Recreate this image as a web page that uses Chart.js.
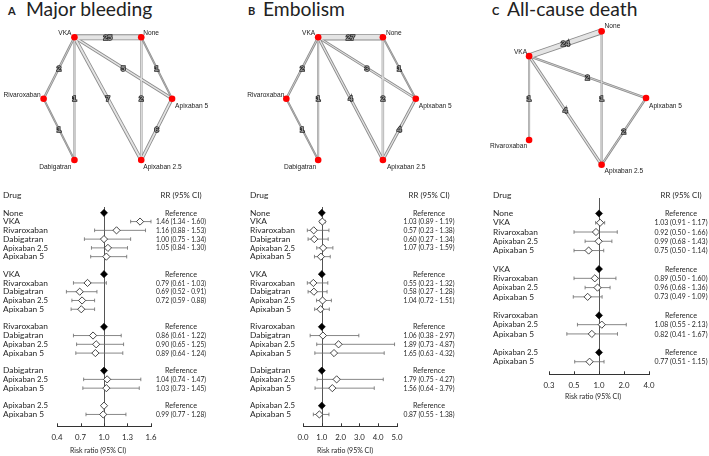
<!DOCTYPE html>
<html><head><meta charset="utf-8">
<script src="https://cdn.jsdelivr.net/npm/chart.js@4.4.0/dist/chart.umd.min.js"></script>
<style>
html,body{margin:0;padding:0;background:#fff;overflow:hidden;width:709px;height:456px;position:relative}
canvas{position:absolute}
.ltr{position:absolute;top:5px;font:bold 11px/1 Lato,sans-serif;color:#222;white-space:nowrap}
.ttl{position:absolute;top:-1.5px;font:19.3px/1 Lato,sans-serif;color:#222;white-space:nowrap}
</style></head>
<body>
<div class="ltr" style="left:8px">A</div><div class="ttl" style="left:26px">Major bleeding</div>
<div class="ltr" style="left:248px">B</div><div class="ttl" style="left:263px">Embolism</div>
<div class="ltr" style="left:492px">C</div><div class="ttl" style="left:507px">All-cause death</div>
<canvas id="netA"></canvas><canvas id="netB"></canvas><canvas id="netC"></canvas>
<canvas id="forA"></canvas><canvas id="forB"></canvas><canvas id="forC"></canvas>
<script>
// ================= DATA =================
// --- Network A: Major bleeding (node layout in unit coordinates) ---
const netNodesA = ["VKA", "None", "Rivaroxaban", "Apixaban 5", "Dabigatran", "Apixaban 2.5"];
const netXA = [0.24, 0.76, 0, 1, 0.24, 0.76];
const netYA = [0, 0, 0.5, 0.5, 1, 1];
const edgeFromA = ["VKA", "VKA", "VKA", "VKA", "VKA", "None", "None", "Rivaroxaban", "Apixaban 5"];
const edgeToA = ["None", "Rivaroxaban", "Dabigatran", "Apixaban 2.5", "Apixaban 5", "Apixaban 2.5", "Apixaban 5", "Dabigatran", "Apixaban 2.5"];
const edgeCountA = [25, 2, 1, 7, 5, 2, 1, 1, 6];

// --- Network B: Embolism ---
const netNodesB = ["VKA", "None", "Rivaroxaban", "Apixaban 5", "Dabigatran", "Apixaban 2.5"];
const netXB = [0.246, 0.746, 0, 1, 0.246, 0.746];
const netYB = [0, 0, 0.5, 0.5, 1, 1];
const edgeFromB = ["VKA", "VKA", "VKA", "VKA", "VKA", "None", "None", "Rivaroxaban", "Apixaban 5"];
const edgeToB = ["None", "Rivaroxaban", "Dabigatran", "Apixaban 2.5", "Apixaban 5", "Apixaban 2.5", "Apixaban 5", "Dabigatran", "Apixaban 2.5"];
const edgeCountB = [27, 2, 1, 4, 3, 2, 1, 1, 4];

// --- Network C: All-cause death ---
const netNodesC = ["None", "VKA", "Apixaban 5", "Rivaroxaban", "Apixaban 2.5"];
const netXC = [0.62, 0, 1, 0, 0.62];
const netYC = [0, 0.186, 0.5, 0.814, 1];
const edgeFromC = ["VKA", "VKA", "VKA", "VKA", "None", "Apixaban 5"];
const edgeToC = ["None", "Rivaroxaban", "Apixaban 2.5", "Apixaban 5", "Apixaban 2.5", "Apixaban 2.5"];
const edgeCountC = [24, 1, 4, 2, 1, 2];

// --- Forest A: Major bleeding (ref = reference, est = estimate, hid = estimate w/o printed value) ---
const drugsA = ["None", "VKA", "Rivaroxaban", "Dabigatran", "Apixaban 2.5", "Apixaban 5", "",
  "VKA", "Rivaroxaban", "Dabigatran", "Apixaban 2.5", "Apixaban 5", "",
  "Rivaroxaban", "Dabigatran", "Apixaban 2.5", "Apixaban 5", "",
  "Dabigatran", "Apixaban 2.5", "Apixaban 5", "",
  "Apixaban 2.5", "Apixaban 5"];
const kindA = ["ref", "est", "est", "est", "est", "hid", "",
  "ref", "est", "est", "est", "hid", "",
  "ref", "est", "est", "est", "",
  "ref", "est", "est", "",
  "refOpen", "est"];
const rrA = [1, 1.46, 1.16, 1.00, 1.05, 1.03, null, 1, 0.79, 0.69, 0.72, 0.71, null, 1, 0.86, 0.90, 0.89, null, 1, 1.04, 1.03, null, 1, 0.99];
const loA = [null, 1.34, 0.88, 0.75, 0.84, 0.83, null, null, 0.61, 0.52, 0.59, 0.58, null, null, 0.61, 0.65, 0.64, null, null, 0.74, 0.73, null, null, 0.77];
const hiA = [null, 1.60, 1.53, 1.34, 1.30, 1.29, null, null, 1.03, 0.91, 0.88, 0.88, null, null, 1.22, 1.25, 1.24, null, null, 1.47, 1.45, null, null, 1.28];
const tickValsA = [0.4, 0.7, 1.0, 1.3, 1.6];
const tickLabelsA = ["0.4", "0.7", "1.0", "1.3", "1.6"];

// --- Forest B: Embolism ---
const drugsB = drugsA.slice();
const kindB = ["ref", "est", "est", "est", "est", "hid", "",
  "ref", "est", "est", "est", "hid", "",
  "ref", "est", "est", "est", "",
  "ref", "est", "est", "",
  "ref", "est"];
const rrB = [1, 1.03, 0.57, 0.60, 1.07, 0.95, null, 1, 0.55, 0.58, 1.04, 0.93, null, 1, 1.06, 1.89, 1.65, null, 1, 1.79, 1.56, null, 1, 0.87];
const loB = [null, 0.89, 0.23, 0.27, 0.73, 0.61, null, null, 0.23, 0.27, 0.72, 0.62, null, null, 0.38, 0.73, 0.63, null, null, 0.75, 0.64, null, null, 0.55];
const hiB = [null, 1.19, 1.38, 1.34, 1.59, 1.45, null, null, 1.32, 1.28, 1.51, 1.40, null, null, 2.97, 4.87, 4.32, null, null, 4.27, 3.79, null, null, 1.38];
const tickValsB = [0, 1, 2, 3, 4, 5];
const tickLabelsB = ["0.0", "1.0", "2.0", "3.0", "4.0", "5.0"];

// --- Forest C: All-cause death (log scale) ---
const drugsC = ["None", "VKA", "Rivaroxaban", "Apixaban 2.5", "Apixaban 5", "",
  "VKA", "Rivaroxaban", "Apixaban 2.5", "Apixaban 5", "",
  "Rivaroxaban", "Apixaban 2.5", "Apixaban 5", "",
  "Apixaban 2.5", "Apixaban 5"];
const kindC = ["ref", "est", "est", "est", "est", "",
  "ref", "est", "est", "est", "",
  "ref", "est", "est", "",
  "ref", "est"];
const rrC = [1, 1.03, 0.92, 0.99, 0.75, null, 1, 0.89, 0.96, 0.73, null, 1, 1.08, 0.82, null, 1, 0.77];
const loC = [null, 0.91, 0.50, 0.68, 0.50, null, null, 0.50, 0.68, 0.49, null, null, 0.55, 0.41, null, null, 0.51];
const hiC = [null, 1.17, 1.66, 1.43, 1.14, null, null, 1.60, 1.36, 1.09, null, null, 2.13, 1.67, null, null, 1.15];
const tickValsC = [0.25, 0.5, 1, 2, 4];
const tickLabelsC = ["0.3", "0.5", "1.0", "2.0", "4.0"];

// ================= STYLE / LAYOUT =================
const FONT = "Lato, 'Open Sans', sans-serif";
const NETFONT = "'Liberation Sans', Arial, sans-serif";
const TXT = '#262626';

const netLayoutA = {left: 0, top: 20, w: 235, h: 165, x0: 41, x1: 174, y0: 34, y1: 163};
const netLayoutB = {left: 235, top: 20, w: 235, h: 165, x0: 284, x1: 418, y0: 34, y1: 163};
const netLayoutC = {left: 470, top: 14, w: 239, h: 171, x0: 527, x1: 648, y0: 28, y1: 168};

const labelPosA = {"VKA": [-3, -4, 'right'], "None": [2, -4, 'left'], "Rivaroxaban": [-3, -4, 'right'],
  "Apixaban 5": [3, 7, 'left'], "Dabigatran": [-3, 7, 'right'], "Apixaban 2.5": [2, 7, 'left']};
const labelPosB = {"VKA": [-3, -4, 'right'], "None": [3, -4, 'left'], "Rivaroxaban": [-2, -4, 'right'],
  "Apixaban 5": [3, 7, 'left'], "Dabigatran": [-2, 7, 'right'], "Apixaban 2.5": [4, 7, 'left']};
const labelPosC = {"None": [3, -5, 'left'], "VKA": [-2, -4, 'right'], "Apixaban 5": [3, 8, 'left'],
  "Rivaroxaban": [-2, 6, 'right'], "Apixaban 2.5": [3, 6, 'left']};

const forLayoutA = {left: 0, top: 185, w: 235, x0: 57, x1: 151, row0: 212, pitch: 8.8, axisPage: 426.3, axisH: 29.7,
  lineTop: 207, drugX: 3, rrX: 181, rrW: 50, titleDy: 24.4, titleDx: -6};
const forLayoutB = {left: 235, top: 185, w: 235, x0: 303, x1: 397, row0: 212, pitch: 8.8, axisPage: 426.3, axisH: 29.7,
  lineTop: 207, drugX: 250, rrX: 429, rrW: 51, titleDy: 24.4, titleDx: -5};
const forLayoutC = {left: 470, top: 185, w: 239, x0: 549, x1: 649, row0: 212.7, pitch: 9.31, axisPage: 374.3, axisH: 30,
  lineTop: 198, drugX: 493, rrX: 681, rrW: 53, titleDy: 21.7, titleDx: -6};

function unitRange(p0, p1, size) { const k = p1 - p0; return {min: -p0 / k, max: (size - p0) / k}; }

function place(cv, left, top, w, h) {
  cv.width = w; cv.height = h;
  cv.style.left = left + 'px'; cv.style.top = top + 'px';
  cv.style.width = w + 'px'; cv.style.height = h + 'px';
}

function makeNetwork(id, L, nodes, xs, ys, from, to, counts, labelPos) {
  const cv = document.getElementById(id);
  place(cv, L.left, L.top, L.w, L.h);
  const xr = unitRange(L.x0 - L.left, L.x1 - L.left, L.w);
  const yr = unitRange(L.y0 - L.top, L.y1 - L.top, L.h);
  const idx = n => nodes.indexOf(n);
  const datasets = [{
    data: nodes.map((n, i) => ({x: xs[i], y: ys[i]})),
    pointRadius: 3.3, pointBackgroundColor: '#ff0000', pointBorderColor: '#ff0000', pointBorderWidth: 0, order: 0
  }];
  from.forEach((f, i) => {
    const a = idx(f), b = idx(to[i]);
    const w = 1.0 + Math.sqrt(counts[i]);
    const pts = [{x: xs[a], y: ys[a]}, {x: xs[b], y: ys[b]}];
    datasets.push({data: pts, showLine: true, borderColor: '#8a8a8a', borderWidth: w, pointRadius: 0, order: 2, borderCapStyle: 'butt'});
    datasets.push({data: pts, showLine: true, borderColor: '#e4e4e4', borderWidth: Math.max(w - 1.7, 0.4), pointRadius: 0, order: 1, borderCapStyle: 'butt'});
  });
  const plugin = {
    id: 'net' + id,
    afterDatasetsDraw(chart) {
      const {ctx, scales: {x, y}} = chart;
      ctx.save();
      ctx.font = "bold 8px " + NETFONT;
      ctx.textAlign = 'center'; ctx.textBaseline = 'middle';
      from.forEach((f, i) => {
        const a = idx(f), b = idx(to[i]);
        const mx = (x.getPixelForValue(xs[a]) + x.getPixelForValue(xs[b])) / 2;
        const my = (y.getPixelForValue(ys[a]) + y.getPixelForValue(ys[b])) / 2;
        ctx.lineWidth = 1.6; ctx.strokeStyle = '#2a2a2a';
        ctx.strokeText(String(counts[i]), mx, my + 0.5);
        ctx.fillStyle = '#9a9a9a';
        ctx.fillText(String(counts[i]), mx, my + 0.5);
      });
      ctx.font = "6.6px " + NETFONT;
      ctx.fillStyle = '#222';
      nodes.forEach((n, i) => {
        const p = labelPos[n];
        ctx.textAlign = p[2];
        ctx.fillText(n, x.getPixelForValue(xs[i]) + p[0], y.getPixelForValue(ys[i]) + p[1]);
      });
      ctx.restore();
    }
  };
  new Chart(cv, {
    type: 'scatter',
    data: {datasets},
    options: {
      responsive: false, animation: false, events: [], devicePixelRatio: 1,
      layout: {padding: 0},
      plugins: {legend: {display: false}, tooltip: {enabled: false}},
      scales: {
        x: {type: 'linear', display: false, min: xr.min, max: xr.max, bounds: 'data'},
        y: {type: 'linear', display: false, reverse: true, min: yr.min, max: yr.max, bounds: 'data'}
      }
    },
    plugins: [plugin]
  });
}

function fmt(v) { return v.toFixed(2); }

function makeForest(id, L, drugs, kinds, rr, lo, hi, tickVals, tickLabels, scaleType) {
  const cv = document.getElementById(id);
  const H = Math.round(L.axisPage - L.top + L.axisH);
  place(cv, L.left, L.top, L.w, H);
  const padTop = 4;
  const yMin = (L.top + padTop - L.row0) / L.pitch;
  const yMax = (L.axisPage - L.row0) / L.pitch;
  const axisH = H - (L.axisPage - L.top);
  const refPts = [], openPts = [];
  kinds.forEach((k, i) => {
    if (k === 'ref') refPts.push({x: rr[i], y: i});
    else if (k) openPts.push({x: rr[i], y: i});
  });
  const plugin = {
    id: 'for' + id,
    beforeDatasetsDraw(chart) {
      const {ctx, scales: {x, y}, chartArea} = chart;
      ctx.save();
      const xr = Math.round(x.getPixelForValue(1)) + 0.5;
      ctx.strokeStyle = '#555'; ctx.lineWidth = 1;
      ctx.beginPath(); ctx.moveTo(xr, L.lineTop - L.top); ctx.lineTo(xr, chartArea.bottom); ctx.stroke();
      ctx.strokeStyle = '#6a6a6a'; ctx.lineWidth = 0.8;
      rr.forEach((v, i) => {
        if (lo[i] == null) return;
        const yy = y.getPixelForValue(i);
        const a = x.getPixelForValue(lo[i]), b = x.getPixelForValue(hi[i]);
        ctx.beginPath();
        ctx.moveTo(a, yy); ctx.lineTo(b, yy);
        ctx.moveTo(a, yy - 1.8); ctx.lineTo(a, yy + 1.8);
        ctx.moveTo(b, yy - 1.8); ctx.lineTo(b, yy + 1.8);
        ctx.stroke();
      });
      ctx.restore();
    },
    afterDraw(chart) {
      const {ctx, scales: {x, y}, chartArea} = chart;
      ctx.save();
      ctx.strokeStyle = '#333'; ctx.lineWidth = 1;
      x.ticks.forEach(t => {
        const px = Math.round(x.getPixelForValue(t.value)) + 0.5;
        ctx.beginPath(); ctx.moveTo(px, chartArea.bottom); ctx.lineTo(px, chartArea.bottom - 3); ctx.stroke();
      });
      ctx.fillStyle = TXT;
      ctx.textBaseline = 'middle';
      const nameFont = "8.4px " + FONT, numFont = "8px " + FONT;
      const dx = L.drugX - L.left, rx = L.rrX - L.left;
      ctx.font = nameFont;
      ctx.textAlign = 'left';
      ctx.fillText('Drug', dx, y.getPixelForValue(-2));
      ctx.textAlign = 'center';
      ctx.fillText('RR (95% CI)', rx, y.getPixelForValue(-2), 41);
      drugs.forEach((d, i) => {
        if (!d) return;
        const yy = y.getPixelForValue(i);
        ctx.font = nameFont;
        ctx.textAlign = 'left';
        ctx.fillText(d, dx, yy, 45);
        ctx.textAlign = 'center';
        if (kinds[i] === 'ref' || kinds[i] === 'refOpen') ctx.fillText('Reference', rx, yy, 32);
        else if (kinds[i] === 'est') {
          ctx.font = numFont;
          ctx.fillText(fmt(rr[i]) + ' (' + fmt(lo[i]) + ' - ' + fmt(hi[i]) + ')', rx, yy, L.rrW);
        }
      });
      ctx.font = nameFont;
      ctx.textAlign = 'center';
      ctx.fillText('Risk ratio (95% CI)', (chartArea.left + chartArea.right) / 2 + L.titleDx, chartArea.bottom + L.titleDy, 56);
      ctx.restore();
    }
  };
  new Chart(cv, {
    type: 'scatter',
    data: {
      datasets: [
        {data: refPts, pointStyle: 'rectRot', pointRadius: 3.6, backgroundColor: '#000', borderColor: '#000', borderWidth: 0.5},
        {data: openPts, pointStyle: 'rectRot', pointRadius: 3.6, backgroundColor: '#fff', borderColor: '#333', borderWidth: 0.9}
      ]
    },
    options: {
      responsive: false, animation: false, events: [], devicePixelRatio: 1,
      layout: {padding: {left: L.x0 - L.left, right: L.left + L.w - L.x1, top: padTop, bottom: 0}},
      plugins: {legend: {display: false}, tooltip: {enabled: false}},
      scales: {
        x: {
          type: scaleType, min: tickVals[0], max: tickVals[tickVals.length - 1], bounds: 'data', position: 'bottom',
          afterBuildTicks: s => { s.ticks = tickVals.map(v => ({value: v})); },
          afterFit: s => { s.height = axisH; },
          ticks: {autoSkip: false, maxRotation: 0, minRotation: 0, padding: 6, color: TXT,
            font: {family: FONT, size: 7.8}, callback: (v, i) => tickLabels[i]},
          grid: {display: false, drawTicks: false},
          border: {display: true, color: '#333', width: 1},
          title: {display: false}
        },
        y: {type: 'linear', display: false, reverse: true, min: yMin, max: yMax, bounds: 'data'}
      }
    },
    plugins: [plugin]
  });
}

makeNetwork('netA', netLayoutA, netNodesA, netXA, netYA, edgeFromA, edgeToA, edgeCountA, labelPosA);
makeNetwork('netB', netLayoutB, netNodesB, netXB, netYB, edgeFromB, edgeToB, edgeCountB, labelPosB);
makeNetwork('netC', netLayoutC, netNodesC, netXC, netYC, edgeFromC, edgeToC, edgeCountC, labelPosC);
makeForest('forA', forLayoutA, drugsA, kindA, rrA, loA, hiA, tickValsA, tickLabelsA, 'linear');
makeForest('forB', forLayoutB, drugsB, kindB, rrB, loB, hiB, tickValsB, tickLabelsB, 'linear');
makeForest('forC', forLayoutC, drugsC, kindC, rrC, loC, hiC, tickValsC, tickLabelsC, 'logarithmic');
</script>
</body></html>
